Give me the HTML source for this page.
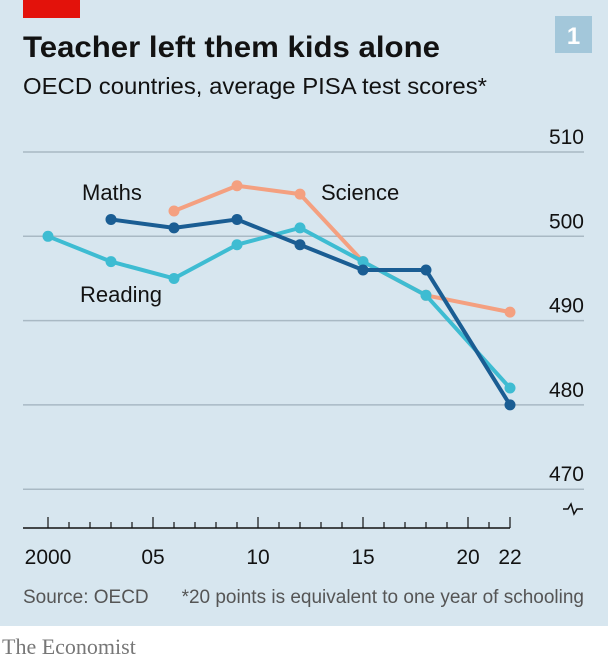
<!DOCTYPE html>
<html><head><meta charset="utf-8"><style>
body{margin:0;width:608px;height:662px;background:#fff;overflow:hidden;font-family:"Liberation Sans",sans-serif}
#panel{position:absolute;left:0;top:0;width:608px;height:626px;background:#d7e6ef}
</style></head><body>
<div id="panel"></div>
<svg width="608" height="662" style="position:absolute;left:0;top:0">
<rect x="23" y="0" width="57" height="18" fill="#e3120b"/>
<rect x="555" y="16" width="37" height="37" fill="#a3c7da"/>
<text x="573.5" y="44" text-anchor="middle" font-size="24" font-weight="bold" fill="#fff">1</text>
<text x="23" y="57" font-size="30" font-weight="bold" fill="#121212" textLength="417" lengthAdjust="spacingAndGlyphs">Teacher left them kids alone</text>
<text x="23" y="94" font-size="23" fill="#121212" textLength="464" lengthAdjust="spacingAndGlyphs">OECD countries, average PISA test scores*</text>
<g id="grid"></g><g id="axis"></g><g id="series"></g>
<text x="82" y="200" font-size="22" fill="#121212">Maths</text>
<text x="321" y="200" font-size="22" fill="#121212">Science</text>
<text x="80" y="302" font-size="22" fill="#121212">Reading</text>
<path d="M563 509 h5 l3 -5 l3 10 l3 -5 h6" fill="none" stroke="#121212" stroke-width="1.5"/>
<text x="23" y="603" font-size="19" fill="#555">Source: OECD</text>
<text x="584" y="603" font-size="19" fill="#555" text-anchor="end">*20 points is equivalent to one year of schooling</text>
<text x="2" y="654" font-size="22" fill="#777" font-family="Liberation Serif, serif">The Economist</text>
</svg>
<script>
const yTicks=[470,480,490,500,510];
const xTicks=[2000,2005,2010,2015,2020,2022];
const xTickLabels=["2000","05","10","15","20","22"];
const mathsYears=[2003,2006,2009,2012,2015,2018,2022];
const mathsValues=[502,501,502,499,496,496,480];
const readingYears=[2000,2003,2006,2009,2012,2015,2018,2022];
const readingValues=[500,497,495,499,501,497,493,482];
const scienceYears=[2006,2009,2012,2015,2018,2022];
const scienceValues=[503,506,505,497,493,491];
const NS="http://www.w3.org/2000/svg";
function xs(y){return 48+(y-2000)*21;}
function ys(v){return 152+(510-v)*8.43;}
function mk(tag,attrs,parent){const e=document.createElementNS(NS,tag);for(const k in attrs)e.setAttribute(k,attrs[k]);parent.appendChild(e);return e;}
const grid=document.getElementById('grid');
yTicks.forEach(t=>{
  const l=mk('line',{x1:23,x2:584,y1:ys(t),y2:ys(t),stroke:'#a9b9c4','stroke-width':1.5},grid);
  
  
  const tx=mk('text',{x:584,y:ys(t)-8,'text-anchor':'end','font-size':21,fill:'#121212'},grid);
  tx.textContent=t;
  
  
});
const ax=document.getElementById('axis');
const al=mk('line',{x1:23,x2:xs(2022),y1:528,y2:528,stroke:'#121212','stroke-width':1.5},ax);


for(let y=2000;y<=2022;y++){
  const major=xTicks.includes(y);
  const t=mk('line',{x1:xs(y),x2:xs(y),y1:528,y2:major?517:522,stroke:'#121212','stroke-width':1.2},ax);
  
  
}
xTicks.forEach((y,i)=>{
  const tx=mk('text',{x:xs(y),y:564,'text-anchor':'middle','font-size':21,fill:'#121212'},ax);
  tx.textContent=xTickLabels[i];
  
  
});
const sg=document.getElementById('series');
function draw(name,years,vals,color){
  const p=mk('polyline',{points:years.map((y,i)=>xs(y)+','+ys(vals[i])).join(' '),fill:'none',stroke:color,'stroke-width':4,'stroke-linejoin':'round'},sg);
  
  
  years.forEach((y,i)=>{
    const c=mk('circle',{cx:xs(y),cy:ys(vals[i]),r:5.5,fill:color},sg);
    
    
  });
}
draw('science',scienceYears,scienceValues,'#f4a080');
draw('reading',readingYears,readingValues,'#3ebcd2');
draw('maths',mathsYears,mathsValues,'#1a5d93');
</script>
</body></html>
